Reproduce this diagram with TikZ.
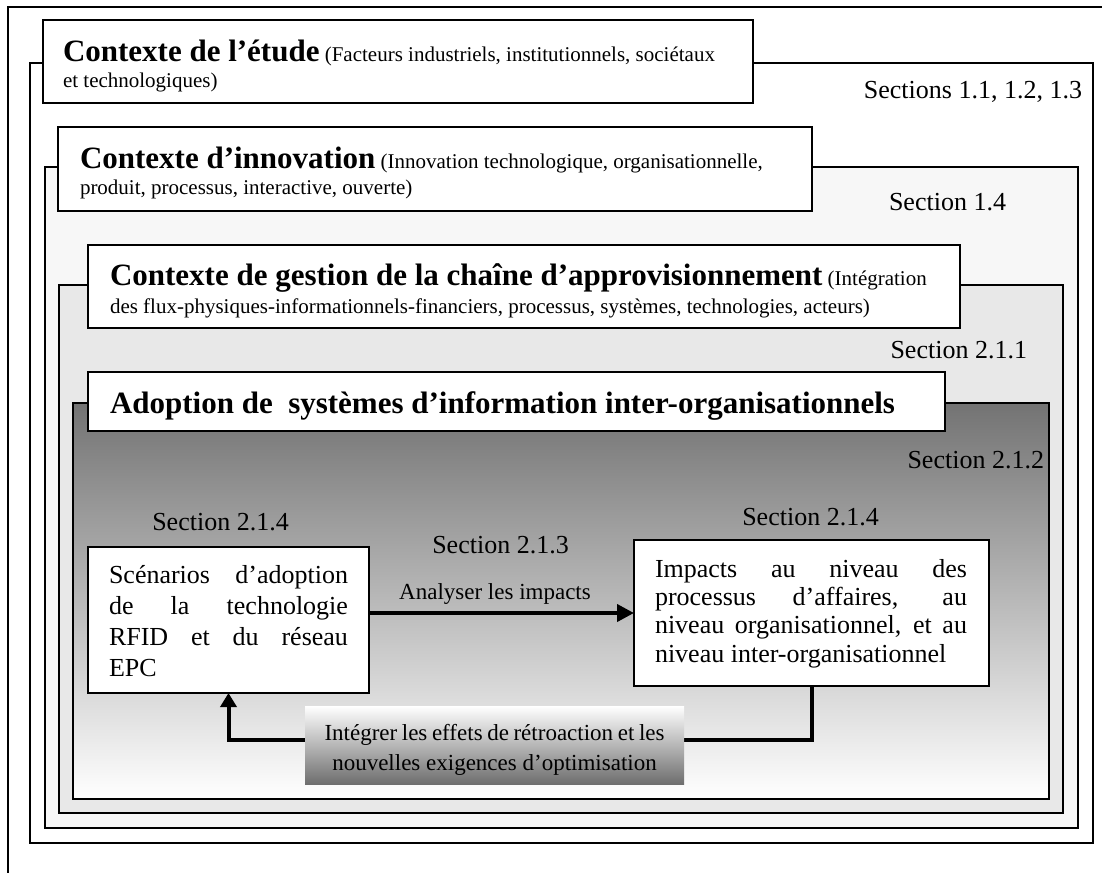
\documentclass[tikz,border=0pt]{standalone}
\usepackage{fontspec}
\setmainfont{Liberation Serif}
\usetikzlibrary{arrows.meta,shadows}

\definecolor{paleA}{HTML}{F7F7F7}
\definecolor{paleB}{HTML}{E8E8E8}
\definecolor{deepgray}{HTML}{737373}
\definecolor{midgray}{HTML}{C6C6C6}
\definecolor{boxgray}{HTML}{6E6E6E}
\definecolor{boxmid}{HTML}{D2D2D2}

% font sizes (1pt = 1px of the page)
\newcommand\ttlfont{\fontsize{31}{36}\selectfont\bfseries}
\newcommand\notefont{\fontsize{21}{25}\selectfont}
\newcommand\lblfont{\fontsize{26}{31}\selectfont}
\newcommand\smlfont{\fontsize{23}{28}\selectfont}
% stack of lines whose baseline is the first line's baseline
\newcommand\linestack[2]{\vtop{\baselineskip=#1\lineskiplimit=-\maxdimen #2}}

\tikzset{
  frame/.style={draw=black, line width=1.8pt, outer sep=0pt, inner sep=0pt,
    anchor=north west,
    drop shadow={shadow xshift=1.3pt, shadow yshift=-1.3pt, fill=black!40}},
  titlebox/.style={frame, fill=white},
  stagebox/.style={frame, fill=white, line width=2.8pt},
  txt/.style={inner sep=0pt, outer sep=0pt},
  flow/.style={line width=4pt},
}

\begin{document}
\begin{tikzpicture}[x=1pt, y=-1pt]
\useasboundingbox (0,0) rectangle (1102,873);
\fill[white] (0,0) rectangle (1102,873);

% outermost frame (open towards the page edges)
\draw[line width=1.8pt] (1102,7) -- (8,7) -- (8,873);

% nested context frames and their title boxes
\node[frame, fill=white, minimum width=1063pt, minimum height=780pt] (f1) at (30,63) {};
\node[titlebox, minimum width=710pt, minimum height=83pt] (h1) at (43,20) {};

\node[frame, fill=paleA, minimum width=1033pt, minimum height=661pt] (f2) at (45,167) {};
\node[titlebox, minimum width=754pt, minimum height=84pt] (h2) at (58,127) {};

\node[frame, fill=paleB, minimum width=1004pt, minimum height=528pt] (f3) at (59,285) {};
\node[titlebox, minimum width=872pt, minimum height=83pt] (h3) at (88,245) {};

\node[frame, top color=deepgray, middle color=midgray, bottom color=white,
      minimum width=976pt, minimum height=396pt] (f4) at (73,403) {};
\node[titlebox, minimum width=857pt, minimum height=59pt] (h4) at (88,372) {};

% title texts
\node[txt, anchor=base west, font=\notefont] (h1text) at (63,61)
  {\linestack{26pt}{\hbox{{\ttlfont Contexte de l’étude} (Facteurs industriels, institutionnels, sociétaux}\hbox{et technologiques)}}};
\node[txt, anchor=base west, font=\notefont] (h2text) at (80,168)
  {\linestack{26pt}{\hbox{{\ttlfont Contexte d’innovation} (Innovation technologique, organisationnelle,}\hbox{produit, processus, interactive, ouverte)}}};
\node[txt, anchor=base west, font=\notefont] (h3text) at (110,285)
  {\linestack{28pt}{\hbox{{\ttlfont Contexte de gestion de la chaîne d’approvisionnement} (Intégration}\hbox{des flux-physiques-informationnels-financiers, processus, systèmes, technologies, acteurs)}}};
\node[txt, anchor=base west, font=\ttlfont] (h4text) at (110,413)
  {Adoption de\ \ systèmes d’information inter-organisationnels};

% section references
\node[txt, anchor=base east, font=\lblfont] (s1) at (1082,98) {Sections 1.1, 1.2, 1.3};
\node[txt, anchor=base east, font=\lblfont] (s2) at (1006,210) {Section 1.4};
\node[txt, anchor=base east, font=\lblfont] (s3) at (1027,358) {Section 2.1.1};
\node[txt, anchor=base east, font=\lblfont] (s4) at (1044,468) {Section 2.1.2};
\node[txt, anchor=base, font=\lblfont] (s5) at (220.5,530) {Section 2.1.4};
\node[txt, anchor=base, font=\lblfont] (s6) at (810.5,525) {Section 2.1.4};
\node[txt, anchor=base, font=\lblfont] (s7) at (500.5,553) {Section 2.1.3};

% the two stages
\node[stagebox, minimum width=281pt, minimum height=146pt] (lb) at (88,547) {};
\node[stagebox, minimum width=355pt, minimum height=146pt] (rb) at (634,540) {};

\node[txt, anchor=base west, font=\lblfont] (lbtext) at (109,583)
  {\linestack{31pt}{%
    \hbox to 239pt{Scénarios d’adoption}%
    \hbox to 239pt{de la technologie}%
    \hbox to 239pt{RFID et du réseau}%
    \hbox{EPC}}};
\node[txt, anchor=base west, font=\lblfont] (rbtext) at (655,577)
  {\linestack{28.4pt}{%
    \hbox to 312pt{Impacts au niveau des}%
    \hbox to 312pt{processus d’affaires, au}%
    \hbox to 312pt{niveau organisationnel, et au}%
    \hbox{niveau inter-organisationnel}}};

% analysis arrow
\draw[flow, -{Triangle[length=17pt, width=17pt]}] (lb.east |- rb.west) -- (rb.west);
\node[txt, anchor=base, font=\smlfont] (alabel) at (495,599) {Analyser les impacts};

% feedback loop
\coordinate (fbR) at (812,740);
\draw[flow, -{Triangle[length=14pt, width=16pt]}]
  (rb.south -| fbR) -- (fbR) -- (lb.south |- fbR) -- (lb.south);

\node[txt, anchor=north west, top color=white, middle color=boxmid, bottom color=boxgray,
      minimum width=379pt, minimum height=78pt] (fb) at (305,706) {};
\node[txt, anchor=base, font=\smlfont] (fbtext) at (494.5,740)
  {\linestack{30pt}{%
    \hbox to 340pt{\hfil Intégrer les effets de rétroaction et les\hfil}%
    \hbox to 340pt{\hfil nouvelles exigences d’optimisation\hfil}}};
\end{tikzpicture}
\end{document}
